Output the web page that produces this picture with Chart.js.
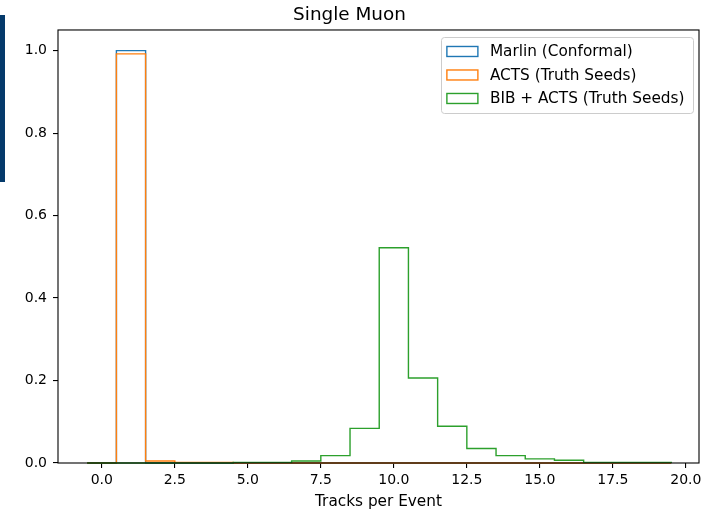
<!DOCTYPE html>
<html><head><meta charset="utf-8">
<script src="https://cdn.jsdelivr.net/npm/chart.js@4/dist/chart.umd.min.js"></script>
<style>
html,body{margin:0;padding:0;background:#fff;overflow:hidden}
#wrap{position:relative;width:704px;height:513px}
#bar{position:absolute;left:0;top:15px;width:5px;height:167px;background:#053a6b}
</style></head><body>
<div id="wrap"><canvas id="c" width="704" height="513"></canvas><div id="bar"></div></div>
<script>
// ---- data ----
const binEdges = [-0.5,0.5,1.5,2.5,3.5,4.5,5.5,6.5,7.5,8.5,9.5,10.5,11.5,12.5,13.5,14.5,15.5,16.5,17.5,18.5,19.5];
const seriesLabels = ["Marlin (Conformal)", "ACTS (Truth Seeds)", "BIB + ACTS (Truth Seeds)"];
const marlinValues = [0,1.0,0,0,0,0,0,0,0,0,0,0,0,0,0,0,0,0,0,0];
const actsValues   = [0,0.992,0.005,0.0015,0.0015,0,0,0,0,0,0,0,0,0,0,0,0,0,0,0];
const bibActsValues= [0,0,0,0,0,0.0015,0.0015,0.005,0.018,0.084,0.522,0.206,0.089,0.035,0.018,0.010,0.0065,0.0015,0.0015,0.0015];
const xTickValues = [0,2.5,5,7.5,10,12.5,15,17.5,20];
const yTickValues = [0,0.2,0.4,0.6,0.8,1.0];
const seriesColors = ["#1f77b4","#ff7f0e","#2ca02c"];

function stepPoints(edges, vals){
  const pts=[{x:edges[0],y:0}];
  for(let i=0;i<vals.length;i++) pts.push({x:edges[i],y:vals[i]});
  pts.push({x:edges[edges.length-1],y:0});
  return pts;
}
const FONT="'DejaVu Sans', sans-serif";
const TICK_FS=14;
const LABEL_FS=15.3;
const allVals=[marlinValues,actsValues,bibActsValues];

const spines={id:'spines',afterDatasetsDraw(chart){
  const {ctx,chartArea:a}=chart;ctx.save();ctx.strokeStyle='#000';ctx.lineWidth=1.1;
  ctx.strokeRect(a.left,a.top,a.right-a.left,a.bottom-a.top);ctx.restore();}};

const legendBox={id:'legendBox',afterDraw(chart){
  const {ctx,chartArea:a}=chart;ctx.save();
  ctx.font=LABEL_FS+'px '+FONT;
  let tw=0;chart.data.datasets.forEach(d=>{tw=Math.max(tw,ctx.measureText(d.label).width);});
  const padL=6,hl=31,gap=12,padR=8,rowH=16,sp=7.5,padV=6.5;
  const right=a.right-6.5, top=a.top+7;
  const w=padL+hl+gap+tw+padR, h=2*padV+3*rowH+2*sp, left=right-w;
  ctx.beginPath();ctx.roundRect(Math.round(left)+0.5,Math.round(top)+0.5,Math.round(w),Math.round(h),3);
  ctx.fillStyle='rgba(255,255,255,0.8)';ctx.fill();
  ctx.strokeStyle='#cccccc';ctx.lineWidth=1;ctx.stroke();
  chart.data.datasets.forEach((d,i)=>{
    const cy=top+padV+rowH/2+i*(rowH+sp);
    ctx.strokeStyle=d.borderColor;ctx.lineWidth=1.4;
    ctx.strokeRect(left+padL,cy-5,hl,10);
    ctx.fillStyle='#000';ctx.textBaseline='middle';ctx.textAlign='left';
    ctx.fillText(d.label,left+padL+hl+gap,cy+1);
  });
  ctx.restore();}};

new Chart(document.getElementById('c'),{
  type:'line',
  data:{datasets:seriesLabels.map((lab,i)=>({
    label:lab,data:stepPoints(binEdges,allVals[i]),borderColor:seriesColors[i],
    backgroundColor:seriesColors[i],borderWidth:1.4,pointRadius:0,fill:false,
    stepped:'before',tension:0,clip:false,order:3-i,borderJoinStyle:'miter'}))},
  options:{
    responsive:false,animation:false,devicePixelRatio:1,
    layout:{padding:{left:0,right:5,top:0,bottom:0}},
    plugins:{
      legend:{display:false},tooltip:{enabled:false},
      title:{display:true,text:'Single Muon',color:'#000',
        font:{family:FONT,size:18.4,weight:'normal'},padding:{top:4,bottom:3.9}}
    },
    scales:{
      x:{type:'linear',min:-1.5,max:20.45,
        afterBuildTicks(s){s.ticks=xTickValues.map(v=>({value:v}));},
        afterFit(s){s.height=50;s.paddingLeft=0;s.paddingRight=0;},
        ticks:{color:'#000',font:{family:FONT,size:TICK_FS},padding:4,maxRotation:0,
          callback:v=>Number(v).toFixed(1)},
        grid:{drawOnChartArea:false,drawTicks:true,tickLength:5,color:'#000',lineWidth:1.1},
        border:{display:false},
        title:{display:true,text:'Tracks per Event',color:'#000',
          font:{family:FONT,size:LABEL_FS},padding:{top:0,bottom:2}}
      },
      y:{type:'linear',min:0,max:1.05,
        afterBuildTicks(s){s.ticks=yTickValues.map(v=>({value:v}));},
        afterFit(s){s.width=58;s.paddingTop=0;s.paddingBottom=0;},
        ticks:{color:'#000',font:{family:FONT,size:TICK_FS},padding:6,
          callback:v=>Number(v).toFixed(1)},
        grid:{drawOnChartArea:false,drawTicks:true,tickLength:5,color:'#000',lineWidth:1.1},
        border:{display:false}
      }
    }
  },
  plugins:[spines,legendBox]
});
</script>
</body></html>
